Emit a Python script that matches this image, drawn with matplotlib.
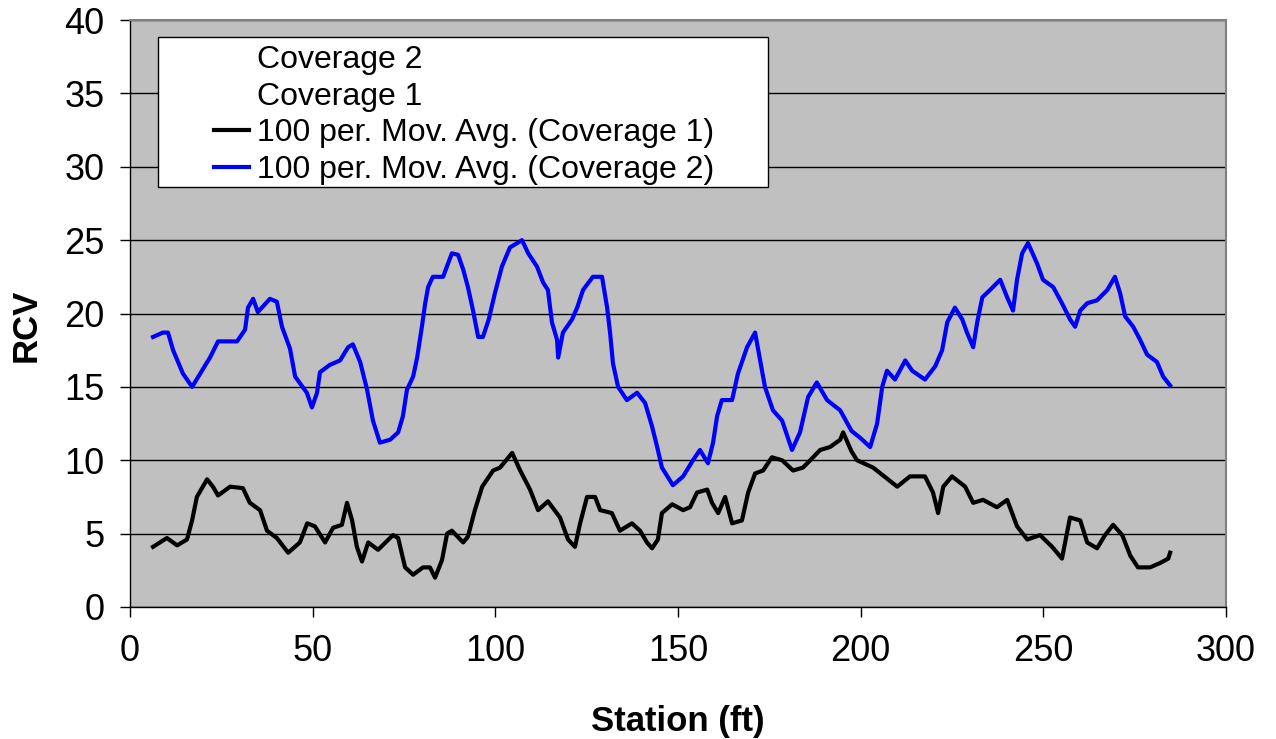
import matplotlib
matplotlib.use("Agg")
import matplotlib.pyplot as plt
from matplotlib.lines import Line2D
from matplotlib.patches import Rectangle

plt.rcParams['font.family'] = ['Liberation Sans', 'DejaVu Sans']

# ---- data ----
cov2_station = [6.3, 9.0, 10.4, 11.8, 14.5, 17.0, 19.2, 21.9, 24.1, 29.3, 31.5, 32.3, 33.7, 35.0,
                38.3, 40.2, 41.6, 43.8, 45.2, 48.4, 49.8, 51.2, 52.0, 54.7, 57.5, 59.7, 61.0,
                63.0, 64.9, 66.5, 68.4, 71.2, 73.4, 74.7, 75.8, 77.5, 78.6, 79.9, 80.8, 81.6,
                82.9, 85.7, 88.1, 89.8, 91.2, 92.5, 93.9, 95.3, 96.6, 98.2, 99.9, 101.8, 104.0,
                107.3, 109.0, 111.4, 113.1, 114.4, 115.5, 116.9, 117.2, 118.5, 121.0, 122.4,
                124.0, 126.7, 129.2, 130.6, 131.4, 132.2, 133.6, 136.0, 138.8, 141.0, 142.9,
                144.3, 145.6, 148.6, 151.4, 154.1, 156.0, 158.2, 159.6, 160.7, 162.0, 164.8,
                166.4, 168.9, 171.1, 172.5, 173.8, 176.0, 178.5, 181.2, 183.4, 185.6, 188.0,
                190.8, 194.4, 197.5, 200.0, 202.6, 204.5, 205.9, 207.2, 209.4, 212.2, 214.1,
                217.6, 220.4, 222.3, 223.7, 225.8, 227.8, 229.1, 230.8, 231.9, 233.3, 235.4,
                238.2, 240.1, 241.7, 242.8, 244.2, 245.8, 248.3, 249.9, 252.7, 255.1, 257.3,
                258.7, 260.1, 262.0, 264.7, 267.5, 269.6, 271.0, 272.4, 274.6, 276.5, 278.4,
                281.1, 282.8, 284.7]
cov2_mavg = [18.4, 18.7, 18.7, 17.5, 15.9, 15.0, 15.9, 17.0, 18.1, 18.1, 18.9, 20.4, 21.0, 20.1,
             21.0, 20.8, 19.1, 17.6, 15.7, 14.6, 13.6, 14.6, 16.0, 16.5, 16.8, 17.7, 17.9,
             16.7, 14.8, 12.7, 11.2, 11.4, 11.9, 13.0, 14.8, 15.7, 17.0, 19.1, 20.7, 21.8,
             22.5, 22.5, 24.1, 24.0, 23.0, 21.8, 20.2, 18.4, 18.4, 19.6, 21.4, 23.2, 24.5,
             25.0, 24.1, 23.2, 22.1, 21.6, 19.4, 18.2, 17.0, 18.7, 19.6, 20.4,
             21.6, 22.5, 22.5, 20.4, 18.7, 16.6, 15.0, 14.1, 14.6, 13.9, 12.3,
             10.9, 9.5, 8.3, 8.9, 10.0, 10.7, 9.8, 11.2, 13.0, 14.1, 14.1,
             15.9, 17.7, 18.7, 16.8, 15.0, 13.4, 12.7, 10.7, 11.9, 14.3, 15.3,
             14.1, 13.4, 12.0, 11.5, 10.9, 12.5, 15.0, 16.1, 15.5, 16.8, 16.1,
             15.5, 16.4, 17.5, 19.4, 20.4, 19.6, 18.7, 17.7, 19.4, 21.1, 21.6,
             22.3, 21.1, 20.2, 22.3, 24.1, 24.8, 23.4, 22.3, 21.8, 20.7, 19.6,
             19.1, 20.2, 20.7, 20.9, 21.6, 22.5, 21.4, 19.8, 19.1, 18.2, 17.2,
             16.7, 15.7, 15.1]

cov1_station = [6.3, 10.1, 12.9, 15.6, 17.0, 18.3, 21.1, 22.7, 24.1, 27.4, 30.9, 32.8, 35.6, 37.5,
                40.2, 43.3, 46.5, 48.5, 50.6, 53.4, 55.6, 58.0, 59.4, 60.8, 62.1, 63.5, 65.2,
                67.9, 72.0, 73.4, 75.3, 77.5, 80.2, 82.1, 83.5, 85.4, 86.8, 88.1, 91.2, 92.5,
                94.4, 96.4, 99.4, 101.3, 104.6, 106.8, 109.5, 111.7, 114.4, 117.7, 119.9, 121.8,
                123.2, 125.1, 127.3, 128.7, 131.9, 134.1, 137.4, 139.6, 141.5, 142.9, 144.5,
                145.6, 148.4, 151.4, 153.3, 155.2, 158.0, 159.3, 161.0, 162.9, 164.8, 167.5,
                169.2, 171.1, 173.3, 175.7, 178.5, 181.5, 184.2, 186.2, 188.9, 191.6, 194.4,
                195.2, 197.5, 199.0, 203.4, 210.0, 213.5, 217.6, 219.8, 221.2, 222.6, 225.0,
                228.6, 230.8, 233.5, 237.3, 240.1, 242.8, 245.6, 249.1, 252.4, 255.1, 257.3,
                260.1, 262.0, 264.7, 266.9, 269.1, 271.6, 273.8, 275.9, 279.2, 282.0, 284.2,
                284.7]
cov1_mavg = [4.1, 4.7, 4.2, 4.6, 5.9, 7.5, 8.7, 8.2, 7.6, 8.2, 8.1, 7.1, 6.6, 5.2,
             4.7, 3.7, 4.4, 5.7, 5.5, 4.4, 5.4, 5.6, 7.1, 5.9, 4.1, 3.1, 4.4,
             3.9, 4.9, 4.7, 2.7, 2.2, 2.7, 2.7, 2.0, 3.2, 5.0, 5.2, 4.4, 4.8,
             6.6, 8.2, 9.3, 9.5, 10.5, 9.3, 8.0, 6.6, 7.2, 6.1, 4.6, 4.1,
             5.7, 7.5, 7.5, 6.6, 6.4, 5.2, 5.7, 5.2, 4.4, 4.0, 4.6,
             6.4, 7.0, 6.6, 6.8, 7.8, 8.0, 7.1, 6.4, 7.5, 5.7, 5.9,
             7.8, 9.1, 9.3, 10.2, 10.0, 9.3, 9.5, 10.0, 10.7, 10.9, 11.4,
             11.9, 10.6, 10.0, 9.5, 8.2, 8.9, 8.9, 7.8, 6.4, 8.2, 8.9,
             8.2, 7.1, 7.3, 6.8, 7.3, 5.5, 4.6, 4.9, 4.1, 3.3, 6.1,
             5.9, 4.4, 4.0, 4.9, 5.6, 4.9, 3.5, 2.7, 2.7, 3.0, 3.3,
             3.7]

legend_labels = ["Coverage 2", "Coverage 1",
                 "100 per. Mov. Avg. (Coverage 1)", "100 per. Mov. Avg. (Coverage 2)"]
x_ticks = [0, 50, 100, 150, 200, 250, 300]
y_ticks = [0, 5, 10, 15, 20, 25, 30, 35, 40]

fig = plt.figure(figsize=(12.76, 7.39), dpi=100)
ax = fig.add_axes([130/1276, 1 - 607/739, 1096/1276, 587/739])
ax.set_facecolor('#C0C0C0')

ax.plot(cov2_station, cov2_mavg, color='#0000FF', lw=3, zorder=2)
ax.plot(cov1_station, cov1_mavg, color='black', lw=3, zorder=3)

ax.set_xlim(0, 300)
ax.set_ylim(0, 40)
ax.set_xticks(x_ticks)
ax.set_yticks(y_ticks)
ax.yaxis.grid(True, color='black', lw=1)
ax.set_axisbelow(True)
ax.tick_params(axis='both', direction='out', length=7.5, width=1, labelsize=26, color='black')
ax.tick_params(axis='x', pad=12)
ax.tick_params(axis='y', pad=11)
for s in ['top', 'right']:
    ax.spines[s].set_color('#808080')
    ax.spines[s].set_linewidth(1.5)
for s in ['left', 'bottom']:
    ax.spines[s].set_color('black')
    ax.spines[s].set_linewidth(1)

ax.set_xlabel('Station (ft)', fontsize=25, fontweight='bold')
ax.set_ylabel('RCV', fontsize=25, fontweight='bold')
ax.xaxis.set_label_coords(0.5, -0.167)
ax.yaxis.set_label_coords(-0.080, 0.48)

# legend box
ax.add_patch(Rectangle((28/1096, (607-187)/587), 610/1096, 150/587, transform=ax.transAxes,
                       facecolor='white', edgecolor='black', lw=1, zorder=4))
handles = [Line2D([], [], linestyle='none', marker=None),
           Line2D([], [], linestyle='none', marker=None),
           Line2D([], [], color='black', lw=3),
           Line2D([], [], color='#0000FF', lw=3)]
leg = ax.legend(handles, legend_labels, loc='upper left',
                bbox_to_anchor=((214-130)/1096, (607-45)/587), frameon=False,
                fontsize=23, handlelength=1.1, handletextpad=0.25, labelspacing=0.21,
                borderpad=0, borderaxespad=0)
leg.set_zorder(5)

fig.savefig('out.png', dpi=100)
